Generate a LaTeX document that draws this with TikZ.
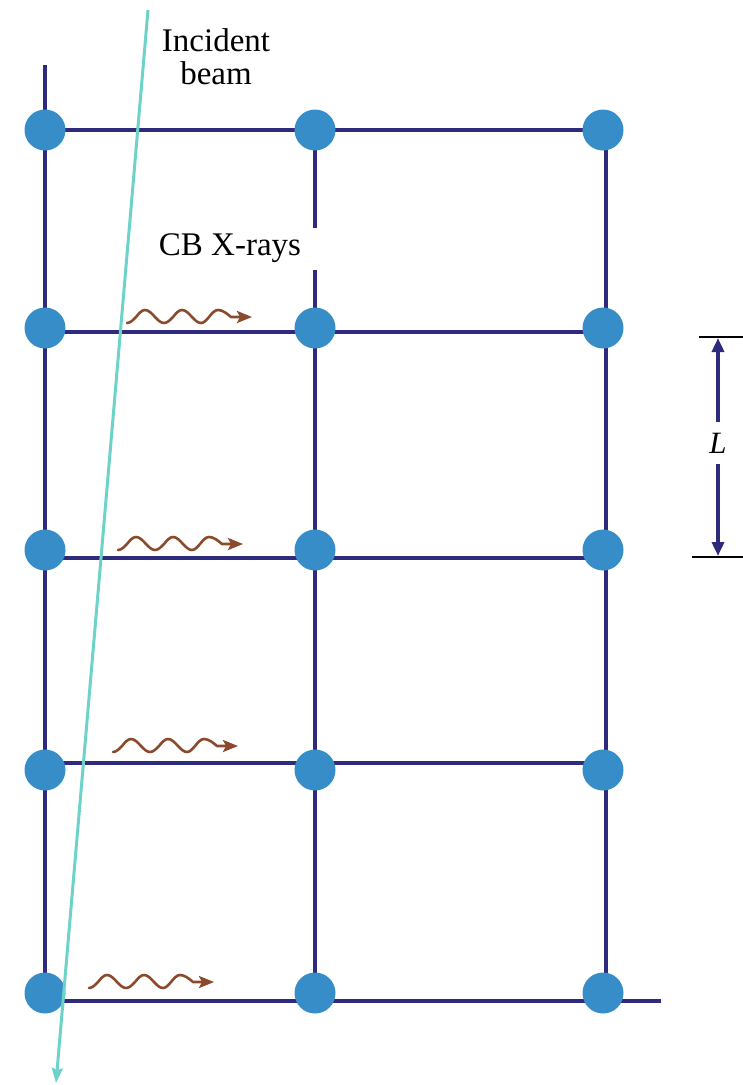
\documentclass[tikz,border=0pt]{standalone}
\usepackage{fontspec}
\setmainfont{Liberation Serif}
\usetikzlibrary{arrows.meta}
\definecolor{latline}{HTML}{2F2B7C}
\definecolor{atom}{HTML}{368DC8}
\definecolor{beamc}{HTML}{6DD3C9}
\definecolor{xray}{HTML}{8B4A2B}
\tikzset{
  latticeline/.style={draw=latline, line width=4pt},
  atomdot/.style={circle, fill=atom, minimum size=41pt, inner sep=0pt},
  beamline/.style={draw=beamc, line width=3pt, -{Stealth[length=15pt,width=11pt,inset=2pt]}},
  wave/.style={draw=xray, line width=2.6pt, line cap=round, line join=round, -{Stealth[length=15pt,width=12pt,inset=3pt]}},
  label/.style={font=\fontsize{33}{33}\selectfont, inner sep=0pt},
  tick/.style={draw=black, line width=2pt},
  dimarrow/.style={draw=latline, line width=4pt, -{Triangle[length=14pt,width=12pt]}}
}
\begin{document}
\begin{tikzpicture}[x=1pt,y=1pt]
\useasboundingbox (0,0) rectangle (743,-1085);

% end points of the lattice lines
\coordinate (vLt) at (45,-65);   \coordinate (vLb) at (45,-1001);
\coordinate (vMt) at (315,-130); \coordinate (vMb) at (315,-1001);
\coordinate (vRt) at (606,-130); \coordinate (vRb) at (606,-1001);
\coordinate (h1a) at (45,-130);  \coordinate (h1b) at (604,-130);
\coordinate (h2a) at (45,-332);  \coordinate (h2b) at (604,-332);
\coordinate (h3a) at (45,-558);  \coordinate (h3b) at (604,-558);
\coordinate (h4a) at (45,-763);  \coordinate (h4b) at (604,-763);
\coordinate (h5a) at (45,-1001); \coordinate (h5b) at (661,-1001);

% lattice lines
\foreach \a/\b in {vLt/vLb, vMt/vMb, vRt/vRb, h1a/h1b, h2a/h2b, h3a/h3b, h4a/h4b, h5a/h5b}
  \draw[latticeline] (\a) -- (\b);

% label box hides part of the middle line
\node[label, fill=white, anchor=base, text height=27pt, text depth=15pt, inner xsep=16pt]
  (cb) at (230,-255) {CB X-rays};

% atoms
\foreach \r/\y in {1/130, 2/328, 3/550, 4/770, 5/993} {
  \node[atomdot] (d\r1) at (45,-\y) {};
  \node[atomdot] (d\r2) at (315,-\y) {};
  \node[atomdot] (d\r3) at (603,-\y) {};
}

% emitted X-rays: two and a half wiggles, then the arrow head
\foreach \sx/\sy in {127/323, 118/550, 113/752, 89/988}
  \draw[wave, shift={(\sx,-\sy+6)}]
    (0,-6) cos (9,0) sin (18,7) cos (28,0) sin (37,-6) cos (46,0) sin (55,7) cos (65,0)
    sin (74,-6) cos (82,0) sin (91,7) cos (104,0) -- (125,0);

% incident beam
\coordinate (beamtop) at (148,-10);
\coordinate (beamend) at (56,-1083);
\draw[beamline] (beamtop) -- (beamend);

\node[label, align=center] (inc) at (216,-57) {Incident\\[0pt]beam};

% spacing L
\coordinate (tka) at (699,-337); \coordinate (tkb) at (743,-337);
\coordinate (tkc) at (692,-557); \coordinate (tkd) at (743,-557);
\draw[tick] (tka) -- (tkb);
\draw[tick] (tkc) -- (tkd);
\node[label, font=\fontsize{31}{31}\selectfont\itshape, minimum height=42pt] (L) at (718,-443) {L};
\draw[dimarrow] (L.north) -- (718,-338);
\draw[dimarrow] (L.south) -- (718,-556);
\end{tikzpicture}
\end{document}
